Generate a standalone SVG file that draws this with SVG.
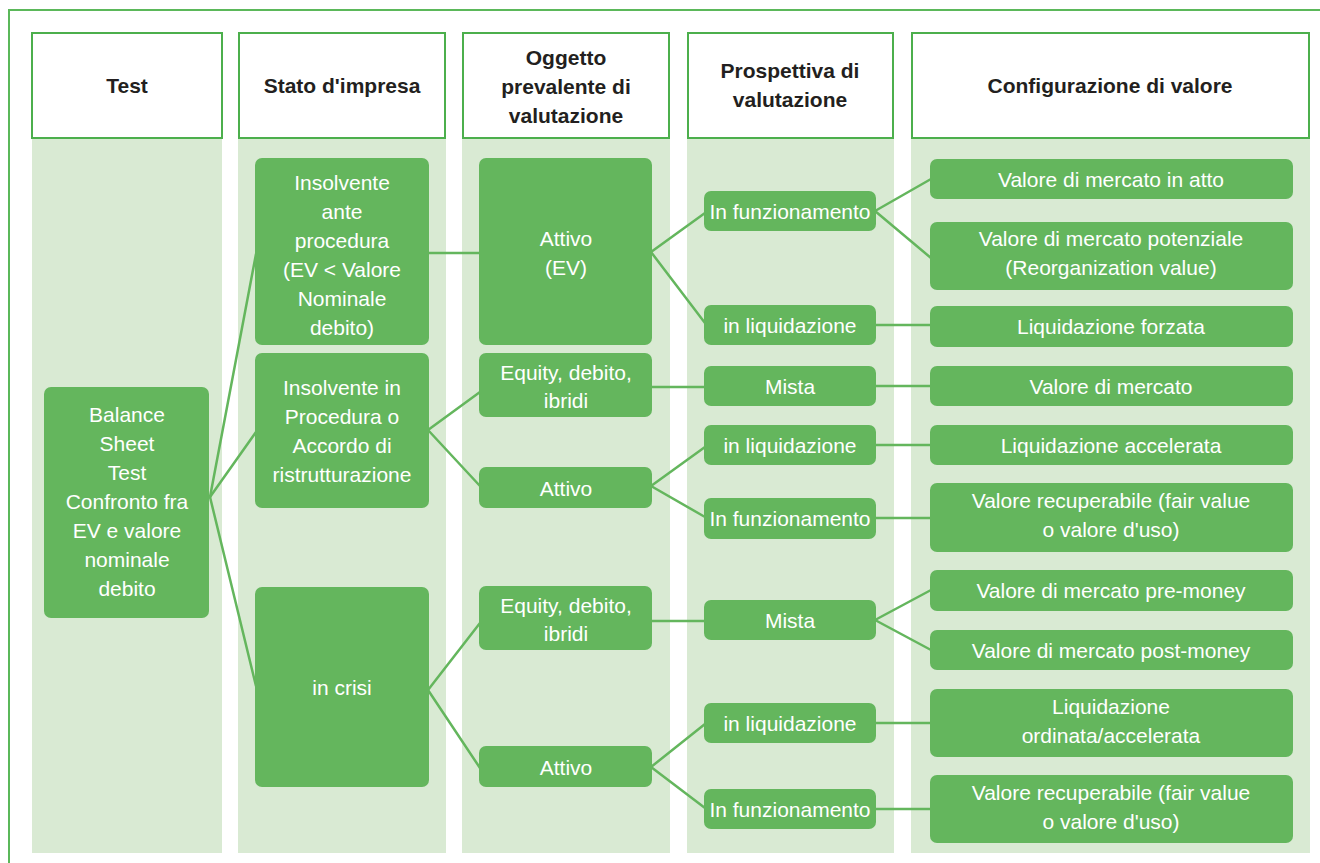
<svg xmlns="http://www.w3.org/2000/svg" width="1320" height="863" viewBox="0 0 1320 863">
  <style>
    .frame { fill: none; stroke: #5bb85a; stroke-width: 2; }
    .col { fill: #d9ead3; }
    .head rect { fill: #ffffff; stroke: #4caf4c; stroke-width: 2; }
    .head text { font-family: "Liberation Sans", Arial, sans-serif; font-size: 21px; font-weight: bold; fill: #231f20; text-anchor: middle; }
    .node rect { fill: #64b65d; }
    .node text { font-family: "Liberation Sans", Arial, sans-serif; font-size: 21px; fill: #ffffff; text-anchor: middle; }
    .conn line { stroke: #64b65d; stroke-width: 2.5; stroke-linecap: round; }
  </style>

  <rect width="1320" height="863" fill="#ffffff"/>
  <path class="frame" d="M9,863 V10 H1320"/>

  <!-- column backgrounds -->
  <g id="columns">
    <rect class="col" x="32" y="139" width="190" height="714"/>
    <rect class="col" x="238" y="139" width="208" height="714"/>
    <rect class="col" x="462" y="139" width="208" height="714"/>
    <rect class="col" x="687" y="139" width="207" height="714"/>
    <rect class="col" x="911" y="139" width="399" height="714"/>
  </g>

  <!-- column headers -->
  <g id="h-test" class="head"><rect x="32" y="33" width="190" height="105"/><text x="127" y="93">Test</text></g>
  <g id="h-stato" class="head"><rect x="239" y="33" width="206" height="105"/><text x="342" y="93">Stato d'impresa</text></g>
  <g id="h-oggetto" class="head"><rect x="463" y="33" width="206" height="105"/>
    <text x="566" y="65">Oggetto</text><text x="566" y="94">prevalente di</text><text x="566" y="123">valutazione</text></g>
  <g id="h-prospettiva" class="head"><rect x="688" y="33" width="205" height="105"/>
    <text x="790" y="78">Prospettiva di</text><text x="790" y="107">valutazione</text></g>
  <g id="h-config" class="head"><rect x="912" y="33" width="397" height="105"/><text x="1110" y="93">Configurazione di valore</text></g>

  <!-- connectors -->
  <g id="connectors" class="conn">
    <line x1="210" y1="497" x2="256" y2="254"/>
    <line x1="210" y1="497" x2="256" y2="432"/>
    <line x1="210" y1="497" x2="256" y2="686"/>
    <line x1="428" y1="253" x2="480" y2="253"/>
    <line x1="428" y1="430" x2="480" y2="392"/>
    <line x1="428" y1="430" x2="480" y2="486"/>
    <line x1="428" y1="690" x2="480" y2="623"/>
    <line x1="428" y1="690" x2="480" y2="768"/>
    <line x1="651" y1="252" x2="705" y2="213"/>
    <line x1="651" y1="252" x2="705" y2="323"/>
    <line x1="651" y1="387" x2="705" y2="387"/>
    <line x1="651" y1="486" x2="705" y2="447"/>
    <line x1="651" y1="486" x2="705" y2="517"/>
    <line x1="651" y1="621" x2="705" y2="621"/>
    <line x1="651" y1="767" x2="705" y2="724"/>
    <line x1="651" y1="767" x2="705" y2="808"/>
    <line x1="875" y1="211" x2="931" y2="179"/>
    <line x1="875" y1="211" x2="931" y2="258"/>
    <line x1="875" y1="325" x2="931" y2="325"/>
    <line x1="875" y1="386" x2="931" y2="386"/>
    <line x1="875" y1="445" x2="931" y2="445"/>
    <line x1="875" y1="518" x2="931" y2="518"/>
    <line x1="875" y1="620" x2="931" y2="590"/>
    <line x1="875" y1="620" x2="931" y2="650"/>
    <line x1="875" y1="723" x2="931" y2="723"/>
    <line x1="875" y1="809" x2="931" y2="809"/>
  </g>

  <!-- Test -->
  <g id="n-balance" class="node"><rect x="44" y="387" width="165" height="231" rx="7"/>
    <text x="127" y="422">Balance</text><text x="127" y="451">Sheet</text><text x="127" y="480">Test</text>
    <text x="127" y="509">Confronto fra</text><text x="127" y="538">EV e valore</text><text x="127" y="567">nominale</text><text x="127" y="596">debito</text></g>

  <!-- Stato d'impresa -->
  <g id="n-insolvente-ante" class="node"><rect x="255" y="158" width="174" height="187" rx="7"/>
    <text x="342" y="190">Insolvente</text><text x="342" y="219">ante</text><text x="342" y="248">procedura</text>
    <text x="342" y="277">(EV &lt; Valore</text><text x="342" y="306">Nominale</text><text x="342" y="335">debito)</text></g>
  <g id="n-insolvente-proc" class="node"><rect x="255" y="353" width="174" height="155" rx="7"/>
    <text x="342" y="395">Insolvente in</text><text x="342" y="424">Procedura o</text><text x="342" y="453">Accordo di</text><text x="342" y="482">ristrutturazione</text></g>
  <g id="n-crisi" class="node"><rect x="255" y="587" width="174" height="200" rx="7"/>
    <text x="342" y="695">in crisi</text></g>

  <!-- Oggetto prevalente -->
  <g id="n-attivo-ev" class="node"><rect x="479" y="158" width="173" height="187" rx="7"/>
    <text x="566" y="246">Attivo</text><text x="566" y="275">(EV)</text></g>
  <g id="n-equity-1" class="node"><rect x="479" y="353" width="173" height="64" rx="7"/>
    <text x="566" y="380">Equity, debito,</text><text x="566" y="408">ibridi</text></g>
  <g id="n-attivo-1" class="node"><rect x="479" y="467" width="173" height="41" rx="7"/>
    <text x="566" y="496">Attivo</text></g>
  <g id="n-equity-2" class="node"><rect x="479" y="586" width="173" height="64" rx="7"/>
    <text x="566" y="613">Equity, debito,</text><text x="566" y="641">ibridi</text></g>
  <g id="n-attivo-2" class="node"><rect x="479" y="746" width="173" height="41" rx="7"/>
    <text x="566" y="775">Attivo</text></g>

  <!-- Prospettiva di valutazione -->
  <g id="n-funz-1" class="node"><rect x="704" y="191" width="172" height="40" rx="7"/><text x="790" y="219">In funzionamento</text></g>
  <g id="n-liq-1" class="node"><rect x="704" y="305" width="172" height="40" rx="7"/><text x="790" y="333">in liquidazione</text></g>
  <g id="n-mista-1" class="node"><rect x="704" y="366" width="172" height="40" rx="7"/><text x="790" y="394">Mista</text></g>
  <g id="n-liq-2" class="node"><rect x="704" y="425" width="172" height="40" rx="7"/><text x="790" y="453">in liquidazione</text></g>
  <g id="n-funz-2" class="node"><rect x="704" y="498" width="172" height="41" rx="7"/><text x="790" y="526">In funzionamento</text></g>
  <g id="n-mista-2" class="node"><rect x="704" y="600" width="172" height="40" rx="7"/><text x="790" y="628">Mista</text></g>
  <g id="n-liq-3" class="node"><rect x="704" y="703" width="172" height="40" rx="7"/><text x="790" y="731">in liquidazione</text></g>
  <g id="n-funz-3" class="node"><rect x="704" y="789" width="172" height="40" rx="7"/><text x="790" y="817">In funzionamento</text></g>

  <!-- Configurazione di valore -->
  <g id="n-mercato-atto" class="node"><rect x="930" y="159" width="363" height="40" rx="7"/><text x="1111" y="187">Valore di mercato in atto</text></g>
  <g id="n-mercato-potenziale" class="node"><rect x="930" y="222" width="363" height="68" rx="7"/>
    <text x="1111" y="246">Valore di mercato potenziale</text><text x="1111" y="275">(Reorganization value)</text></g>
  <g id="n-liq-forzata" class="node"><rect x="930" y="306" width="363" height="41" rx="7"/><text x="1111" y="334">Liquidazione forzata</text></g>
  <g id="n-mercato" class="node"><rect x="930" y="366" width="363" height="40" rx="7"/><text x="1111" y="394">Valore di mercato</text></g>
  <g id="n-liq-accelerata" class="node"><rect x="930" y="425" width="363" height="40" rx="7"/><text x="1111" y="453">Liquidazione accelerata</text></g>
  <g id="n-recuperabile-1" class="node"><rect x="930" y="483" width="363" height="69" rx="7"/>
    <text x="1111" y="508">Valore recuperabile (fair value</text><text x="1111" y="537">o valore d'uso)</text></g>
  <g id="n-pre-money" class="node"><rect x="930" y="570" width="363" height="41" rx="7"/><text x="1111" y="598">Valore di mercato pre-money</text></g>
  <g id="n-post-money" class="node"><rect x="930" y="630" width="363" height="40" rx="7"/><text x="1111" y="658">Valore di mercato post-money</text></g>
  <g id="n-liq-ordinata" class="node"><rect x="930" y="689" width="363" height="68" rx="7"/>
    <text x="1111" y="714">Liquidazione</text><text x="1111" y="743">ordinata/accelerata</text></g>
  <g id="n-recuperabile-2" class="node"><rect x="930" y="775" width="363" height="68" rx="7"/>
    <text x="1111" y="800">Valore recuperabile (fair value</text><text x="1111" y="829">o valore d'uso)</text></g>
</svg>
